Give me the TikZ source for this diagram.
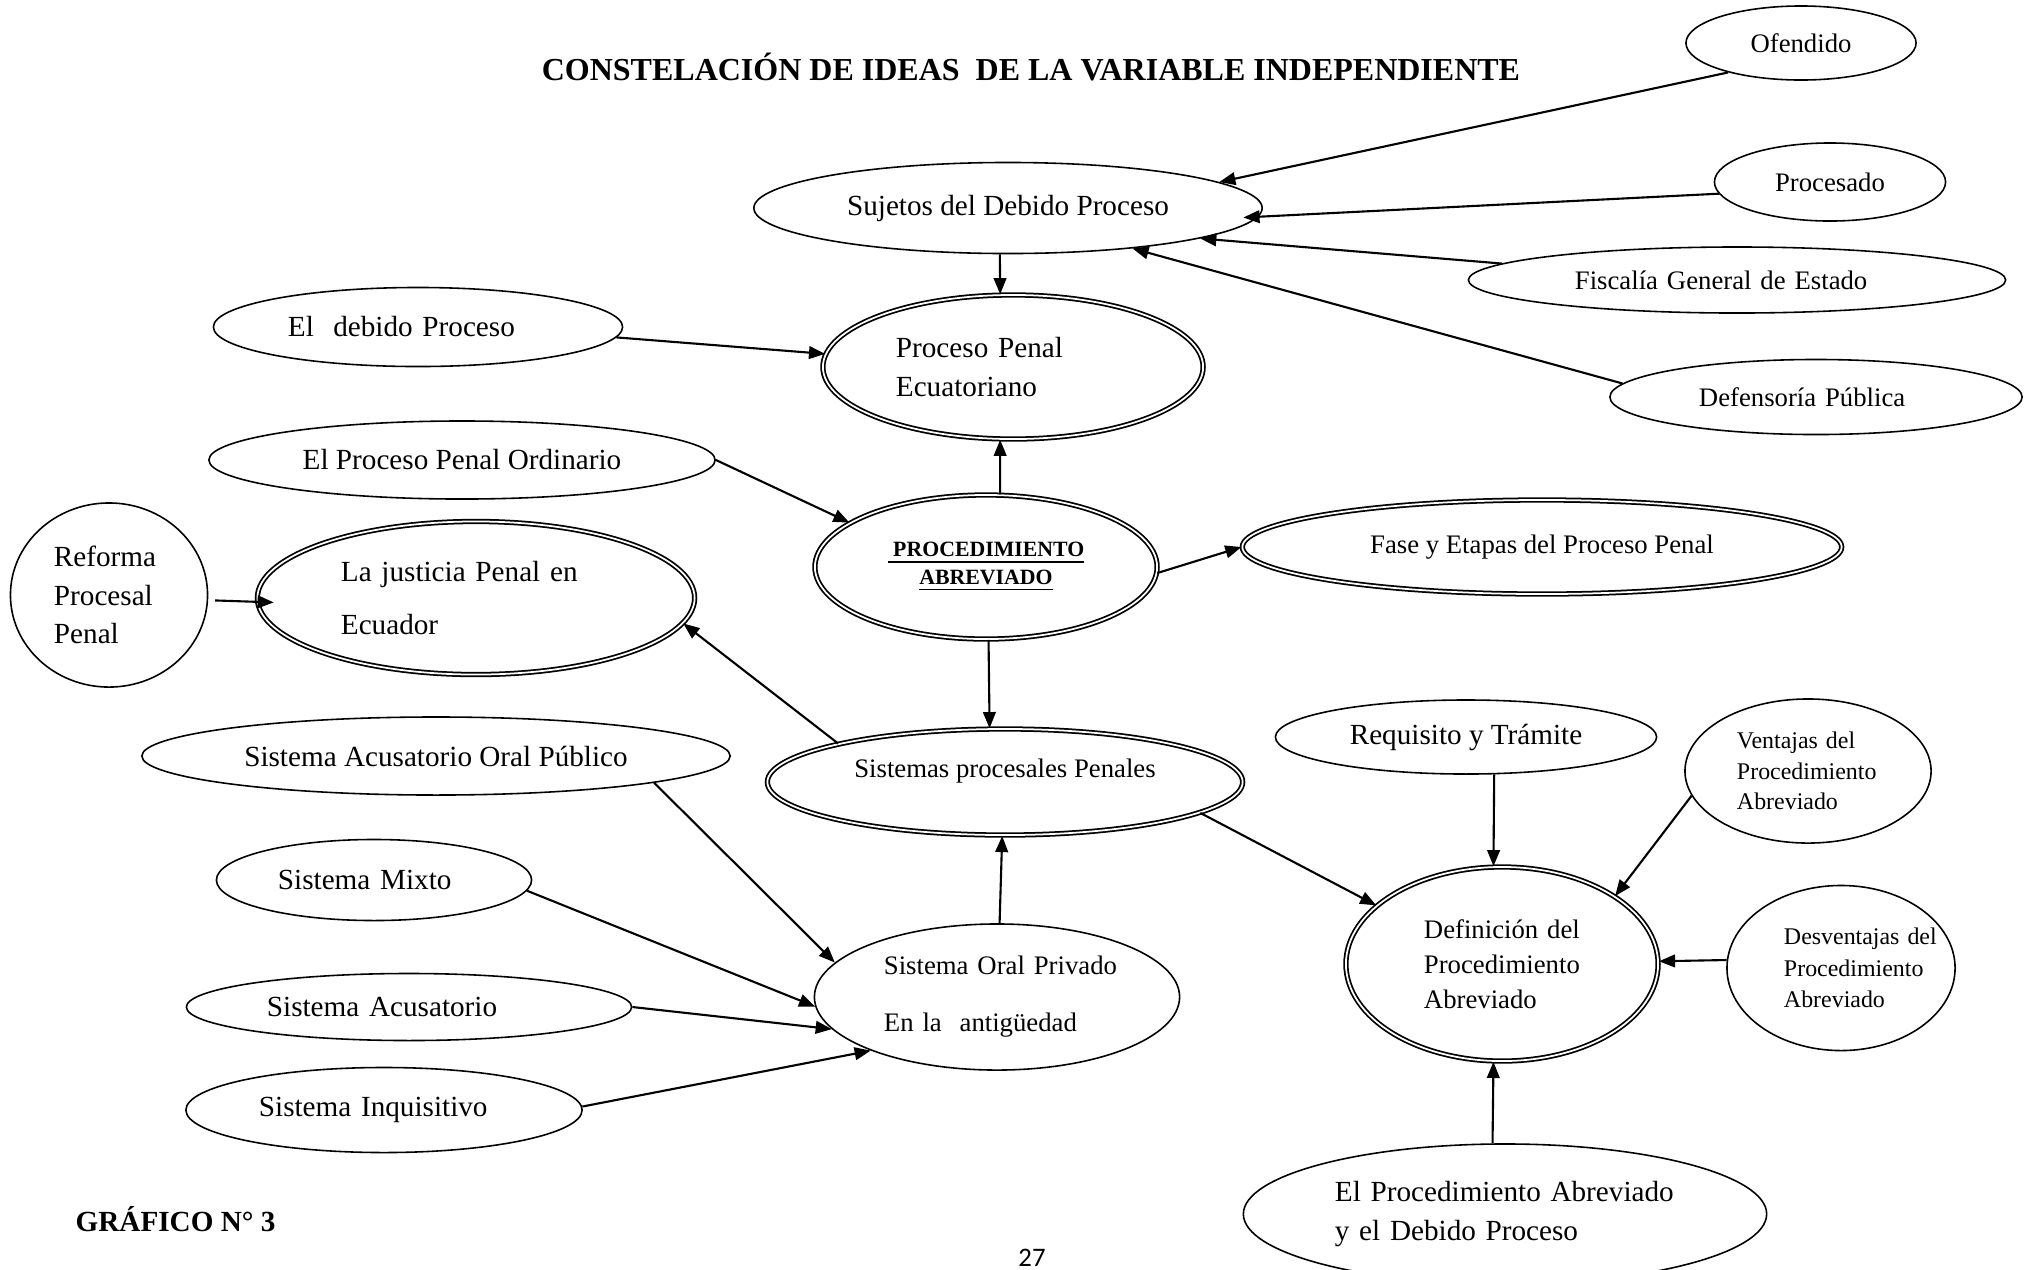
\documentclass[tikz,border=0pt]{standalone}
\usepackage{fontspec}
\setmainfont{Liberation Serif}
\newfontfamily\pagefont{Carlito}
\usepackage{tikz}
\usetikzlibrary{shapes.geometric, arrows.meta}

\newcommand{\szL}{\fontsize{8.3}{11}\selectfont}
\newcommand{\szM}{\fontsize{7.6}{10}\selectfont}
\newcommand{\szS}{\fontsize{6.8}{9.2}\selectfont}

\begin{document}
\begin{tikzpicture}[x=0.01cm, y=-0.01cm,
	ov/.style={draw, ellipse, inner sep=0pt, align=left, line width=0.45pt, font=\szL},
	dov/.style={ov, double, double distance=0.5pt, line width=0.5pt},
	arr/.style={-{Triangle[length=4.6pt,width=3.6pt]}, line width=0.6pt}]
	\useasboundingbox (0,0) rectangle (2034,1269);
	\node[ov, font=\szM, minimum width=2.30cm, minimum height=0.74cm] (0) at (1801,43) {Ofendido};
	\node[ov, minimum width=5.08cm, minimum height=0.91cm] (1) at (1008,208) {Sujetos del Debido Proceso};
	\node[ov, font=\szM, minimum width=2.31cm, minimum height=0.78cm] (2) at (1830,182) {Procesado};
	\node[ov, font=\szM, text width=3.24cm, minimum width=5.37cm, minimum height=0.66cm] (3) at (1737,280) {Fiscalía General de Estado};
	\node[ov, font=\szM, text width=2.34cm, minimum width=4.12cm, minimum height=0.75cm] (4) at (1816,397) {Defensoría Pública};
	\node[ov, text width=2.60cm, minimum width=4.09cm, minimum height=0.79cm] (5) at (418,327) {El\ \ debido Proceso};
	\node[dov, text width=2.34cm, minimum width=3.80cm, minimum height=1.44cm] (6) at (1013,367) {Proceso Penal\\Ecuatoriano};
	\node[ov, minimum width=5.06cm, minimum height=0.78cm] (7) at (462,460) {El Proceso Penal Ordinario};
	\node[dov, font=\fontsize{6.2}{7.9}\selectfont\bfseries, align=center, minimum width=3.42cm, minimum height=1.44cm] (8) at (986,567) {\underline{\ PROCEDIMIENTO}\\\underline{ABREVIADO}};
	\node[dov, font=\szM, minimum width=5.99cm, minimum height=0.94cm] (9) at (1542,547) {Fase y Etapas del Proceso Penal};
	\node[ov, text width=1.10cm, minimum width=1.97cm, minimum height=1.84cm] (10) at (109,595) {Reforma\\Procesal\\Penal};
	\node[dov, font=\fontsize{8.3}{14.8}\selectfont, text width=2.70cm, minimum width=4.37cm, minimum height=1.53cm] (11) at (476,598) {La justicia Penal en\\Ecuador};
	\node[ov, minimum width=5.88cm, minimum height=0.78cm] (12) at (436,756) {Sistema Acusatorio Oral Público};
	\node[dov, font=\szM, text depth=7.6pt, minimum width=4.75cm, minimum height=1.06cm] (13) at (1005,782) {Sistemas procesales Penales};
	\node[ov, minimum width=3.81cm, minimum height=0.74cm] (14) at (1466,737) {Requisito y Trámite};
	\node[ov, font=\fontsize{6.8}{8.6}\selectfont, text width=1.42cm, minimum width=2.46cm, minimum height=1.44cm] (15) at (1808,771) {\mbox{Ventajas del}\\\mbox{Procedimiento}\\\mbox{Abreviado}};
	\node[ov, text width=1.92cm, minimum width=3.15cm, minimum height=0.81cm] (16) at (374,880) {Sistema Mixto};
	\node[ov, font=\fontsize{7.6}{16.2}\selectfont, text width=2.26cm, minimum width=3.65cm, minimum height=1.46cm] (17) at (997,997) {\mbox{Sistema Oral Privado}\\\mbox{En la\ \ antigüedad}};
	\node[dov, font=\fontsize{7.6}{10}\selectfont, text width=1.56cm, minimum width=3.12cm, minimum height=1.94cm] (18) at (1502,964) {\mbox{Definición del}\\\mbox{Procedimiento}\\\mbox{Abreviado}};
	\node[ov, font=\fontsize{6.8}{8.9}\selectfont, text width=1.14cm, minimum width=2.28cm, minimum height=1.65cm] (19) at (1841,968) {\mbox{Desventajas del}\\\mbox{Procedimiento}\\\mbox{Abreviado}};
	\node[ov, text width=2.84cm, minimum width=4.45cm, minimum height=0.67cm] (20) at (409,1007) {Sistema Acusatorio};
	\node[ov, text width=2.50cm, minimum width=3.96cm, minimum height=0.85cm] (21) at (384,1110) {Sistema Inquisitivo};
	\node[ov, text width=3.40cm, minimum width=5.23cm, minimum height=1.40cm] (22) at (1505,1214) {El Procedimiento Abreviado\\y el Debido Proceso};
	\node[font=\fontsize{9.1}{11}\selectfont\bfseries] (23) at (1031,67) {CONSTELACIÓN DE IDEAS\ \ DE LA VARIABLE INDEPENDIENTE};
	\node[font=\szL\bfseries, anchor=west, inner sep=0pt] (24) at (75,1219) {GRÁFICO N° 3};
	\node[font=\fontsize{7.6}{9}\selectfont\pagefont, inner sep=0pt] (25) at (1032,1258) {27};
	\draw[arr] (0.202) to (1.7);
	\draw[arr, shorten >=-0.15cm] (2.186) to (1.358);
	\draw[arr] (3.176) to (1.351);
	\draw[arr] (4.176) to (1.342);
	\draw[arr] (1.260) to (6.100);
	\draw[arr] (5.357) to (6.176);
	\draw[arr] (8.79) to (6.260);
	\draw[arr] (7.0) to (8.162);
	\draw[arr] (8.358) to (9.180);
	\draw[arr, shorten <=0.07cm, shorten >=-0.17cm] (10.357) to (11.181);
	\draw[arr] (13.167) to (11.353);
	\draw[arr] (8.272) to (13.106);
	\draw[arr] (13.351) to (18.155);
	\draw[arr] (14.307) to (18.95);
	\draw[arr] (15.192) to (18.31);
	\draw[arr] (19.176) to (18.1);
	\draw[arr] (22.100) to (18.265);
	\draw[arr] (17.88) to (13.267);
	\draw[arr] (12.353) to (17.168);
	\draw[arr] (16.356) to (17.183);
	\draw[arr] (20.0) to (17.191);
	\draw[arr] (21.1) to (17.203);
\end{tikzpicture}
\end{document}
